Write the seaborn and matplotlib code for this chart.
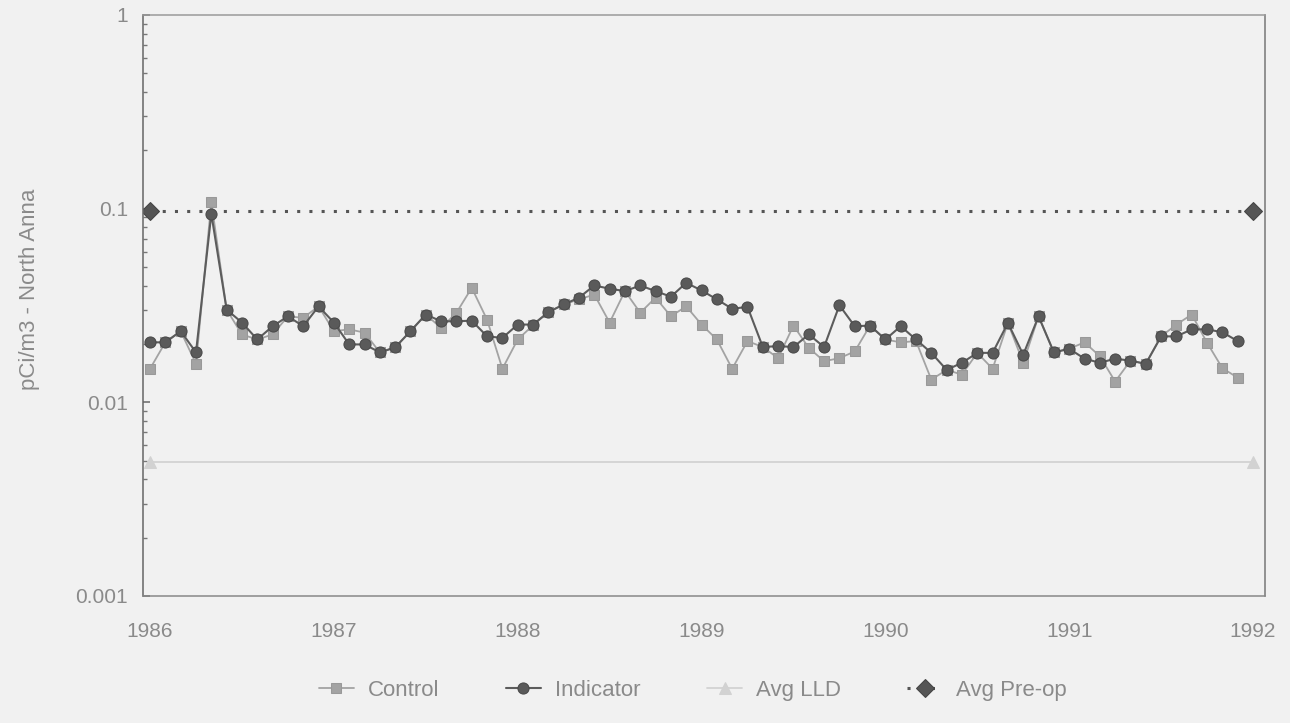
import numpy as np
import pandas as pd
import matplotlib
matplotlib.use("Agg")
import matplotlib.pyplot as plt
import seaborn as sns

# ---- data (monthly, Jan 1986 .. Dec 1991) ----
months = np.arange(72)
control = [0.0149, 0.0204, 0.0233, 0.0158, 0.108, 0.0301, 0.0224, 0.0211, 0.0224, 0.0278, 0.0273, 0.0313,
           0.0233, 0.0238, 0.0229, 0.0181, 0.0192, 0.0233, 0.0284, 0.0242, 0.0290, 0.0390, 0.0267, 0.0149,
           0.0211, 0.0250, 0.0292, 0.0320, 0.0340, 0.0360, 0.0258, 0.0375, 0.0290, 0.0347, 0.0278, 0.0313,
           0.0252, 0.0211, 0.0149, 0.0207, 0.0193, 0.0169, 0.0249, 0.0191, 0.0163, 0.0169, 0.0183, 0.0249,
           0.0211, 0.0204, 0.0207, 0.0131, 0.0147, 0.0139, 0.0180, 0.0149, 0.0257, 0.0160, 0.0278, 0.0181,
           0.0189, 0.0204, 0.0173, 0.0128, 0.0164, 0.0158, 0.0219, 0.0252, 0.0284, 0.0203, 0.0150, 0.0134]
indicator = [0.0204, 0.0204, 0.0233, 0.0181, 0.094, 0.0301, 0.0258, 0.0211, 0.0247, 0.0278, 0.0247, 0.0313,
             0.0258, 0.0199, 0.0199, 0.0181, 0.0192, 0.0233, 0.0284, 0.0262, 0.0262, 0.0264, 0.0219, 0.0215,
             0.0252, 0.0252, 0.0292, 0.0320, 0.0347, 0.0401, 0.0386, 0.0375, 0.0401, 0.0375, 0.0351, 0.0414,
             0.0378, 0.0340, 0.0304, 0.0311, 0.0193, 0.0195, 0.0193, 0.0224, 0.0193, 0.0317, 0.0247, 0.0249,
             0.0211, 0.0247, 0.0211, 0.0180, 0.0147, 0.0160, 0.0180, 0.0180, 0.0257, 0.0176, 0.0278, 0.0181,
             0.0189, 0.0168, 0.0160, 0.0168, 0.0164, 0.0158, 0.0219, 0.0219, 0.0238, 0.0238, 0.0230, 0.0207]
avg_x = [1986.0, 1992.0]
avg_lld = [0.0049, 0.0049]
avg_preop = [0.097, 0.097]
year_ticks = [1986, 1987, 1988, 1989, 1990, 1991, 1992]
ytick_vals = [0.001, 0.01, 0.1, 1]
ytick_labels = ["0.001", "0.01", "0.1", "1"]
ylabel = "pCi/m3 - North Anna"

df = pd.DataFrame({"year": 1986 + months / 12.0, "Control": control, "Indicator": indicator})

sns.set_theme(style="white")
plt.rcParams["font.family"] = ["Liberation Sans", "DejaVu Sans"]

BG = "#f1f1f1"
TXT = "#8a8a8a"
fig = plt.figure(figsize=(12.9, 7.23), dpi=100, facecolor=BG)
ax = fig.add_axes([0.1109, 0.1757, 0.8697, 0.8036], facecolor=BG)

sns.lineplot(x=avg_x, y=avg_lld, ax=ax, color="#d2d2d2", lw=1.3, marker="^", markersize=8,
             markeredgecolor="#d2d2d2", label="Avg LLD", zorder=1)
sns.lineplot(x=avg_x, y=avg_preop, ax=ax, color="#555555", lw=2.2, linestyle=(0, (1, 3)),
             marker="D", markersize=9, markeredgecolor="#444444", label="Avg Pre-op", zorder=2)
sns.lineplot(data=df, x="year", y="Control", ax=ax, color="#a3a3a3", lw=1.3, marker="s",
             markersize=6.5, markeredgecolor="#999999", label="Control", zorder=3)
sns.lineplot(data=df, x="year", y="Indicator", ax=ax, color="#5c5c5c", lw=1.5, marker="o",
             markersize=8, markeredgecolor="#4a4a4a", markerfacecolor="#5a5a5a", label="Indicator", zorder=4)

ax.set_yscale("log")
ax.set_ylim(0.001, 1)
ax.set_xlim(1985.962, 1992.065)
ax.set_xticks(year_ticks)
ax.set_xticklabels([str(y) for y in year_ticks])
ax.set_yticks(ytick_vals)
ax.set_yticklabels(ytick_labels)
ax.tick_params(axis="x", labelsize=15, colors=TXT, length=0, pad=19)
ax.tick_params(axis="y", which="minor", left=True, length=3, color="#777777", direction="in")
ax.tick_params(axis="y", which="major", left=True, length=5, color="#777777", direction="in",
               pad=11, labelsize=15)
for lab in ax.get_xticklabels() + ax.get_yticklabels():
    lab.set_color(TXT)

ax.set_xlabel("")
ax.set_ylabel(ylabel, fontsize=16, color=TXT)
ax.yaxis.set_label_coords(-0.092, 0.528)

for side in ["left", "right", "top", "bottom"]:
    ax.spines[side].set_visible(True)
    ax.spines[side].set_linewidth(1.1)
ax.spines["left"].set_color("#666666")
ax.spines["right"].set_color("#777777")
ax.spines["top"].set_color("#9a9a9a")
ax.spines["bottom"].set_color("#888888")
ax.grid(False)

handles, labels = ax.get_legend_handles_labels()
order = [labels.index(n) for n in ["Control", "Indicator", "Avg LLD", "Avg Pre-op"]]
leg = ax.legend([handles[i] for i in order], [labels[i] for i in order], loc="center",
                bbox_to_anchor=(0.49, -0.162), ncol=4, frameon=False, fontsize=16,
                handlelength=1.6, columnspacing=3.0, handletextpad=0.6)
for t in leg.get_texts():
    t.set_color(TXT)

fig.savefig("out.png", dpi=100, facecolor=BG)
